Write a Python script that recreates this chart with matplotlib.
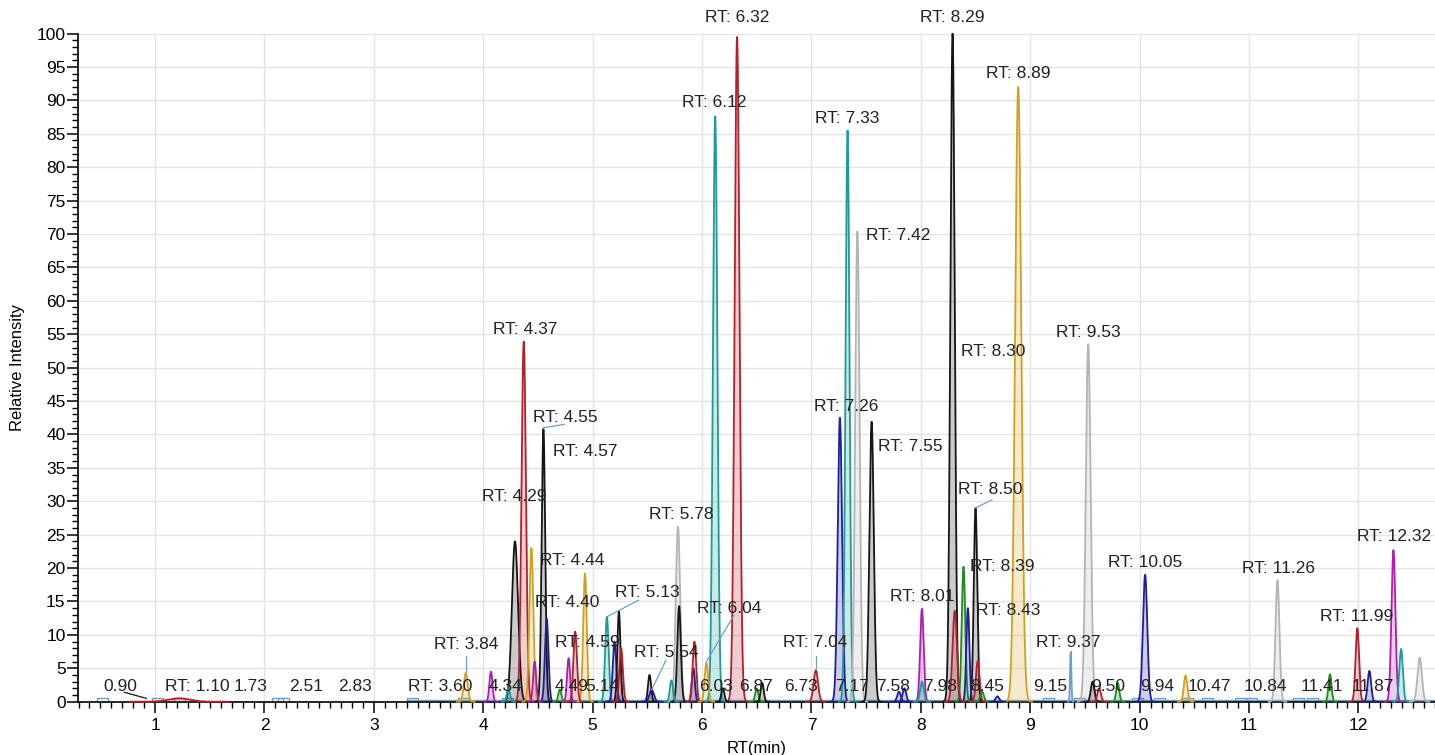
import numpy as np
import matplotlib.pyplot as plt
from matplotlib.patches import Rectangle

plt.rcParams['font.family'] = ['Liberation Sans', 'DejaVu Sans']

# colour codes
cols = {'r': '#b3202b', 't': '#1a9c98', 'k': '#151515', 'g': '#d2a020',
        'y': '#b4b4b4', 'n': '#1e1e9a', 'm': '#b01cb0', 'e': '#1d8a1d',
        'b': '#6a9fd0'}

# peaks: retention time, relative intensity, colour code, width (sigma)
peak_rt = [4.29, 4.37, 4.44, 4.55, 4.58, 4.93, 5.13, 5.78, 5.79, 6.12,
           6.32, 7.26, 7.33, 7.42, 7.55, 8.29, 8.89, 8.50, 9.53, 8.39,
           8.43, 8.31, 8.01, 10.05, 11.26, 11.99, 12.32,
           3.84, 4.07, 4.23, 4.47, 4.70, 4.78, 4.84, 5.20, 5.24, 5.26,
           5.52, 5.54, 5.72, 5.92, 5.93, 6.04, 6.19, 6.50, 6.55, 7.04,
           7.80, 7.85, 8.01, 8.52, 8.56, 8.70, 9.37, 9.57, 9.63, 9.80,
           10.42, 11.74, 12.10, 12.39, 12.56, 1.22]
peak_height = [24.0, 53.9, 23.0, 40.8, 12.4, 19.2, 12.7, 26.2, 14.3, 87.6,
               99.5, 42.5, 85.5, 70.4, 41.9, 100.0, 92.0, 29.0, 53.5, 20.2,
               14.0, 13.6, 13.9, 19.0, 18.2, 11.0, 22.7,
               4.3, 4.5, 2.0, 6.0, 1.8, 6.5, 10.5, 9.0, 13.5, 8.0,
               4.0, 1.8, 3.2, 5.0, 9.0, 5.8, 2.0, 2.0, 2.8, 4.7,
               1.5, 2.0, 3.0, 6.1, 1.5, 0.8, 7.4, 3.0, 2.0, 2.8,
               3.9, 4.1, 4.6, 7.9, 6.6, 0.5]
peak_color = ['k', 'r', 'g', 'k', 'n', 'g', 't', 'y', 'k', 't',
              'r', 'n', 't', 'y', 'k', 'k', 'g', 'k', 'y', 'e',
              'n', 'r', 'm', 'n', 'y', 'r', 'm',
              'g', 'm', 't', 'm', 'e', 'm', 'r', 'n', 'k', 'r',
              'k', 'n', 't', 'n', 'r', 'g', 'k', 'e', 'k', 'r',
              'n', 'n', 't', 'r', 'e', 'n', 'b', 'k', 'r', 'e',
              'g', 'e', 'n', 't', 'y', 'r']
peak_sigma = [0.028, 0.02, 0.018, 0.016, 0.016, 0.016, 0.016, 0.02, 0.016, 0.02,
              0.022, 0.02, 0.018, 0.02, 0.02, 0.02, 0.028, 0.016, 0.022, 0.016,
              0.014, 0.02, 0.016, 0.02, 0.018, 0.016, 0.018,
              0.018, 0.014, 0.014, 0.014, 0.014, 0.014, 0.016, 0.016, 0.014, 0.016,
              0.014, 0.02, 0.014, 0.014, 0.016, 0.016, 0.014, 0.014, 0.014, 0.02,
              0.016, 0.016, 0.016, 0.016, 0.016, 0.016, 0.006, 0.016, 0.016, 0.014,
              0.016, 0.014, 0.016, 0.016, 0.02, 0.1]

# annotations: text, x, y (text centre)
lab_text = ['RT: 6.32', 'RT: 6.12', 'RT: 8.29', 'RT: 8.89', 'RT: 7.33', 'RT: 9.53',
            'RT: 4.37', 'RT: 4.55', 'RT: 7.26', 'RT: 8.50', 'RT: 4.29', 'RT: 5.13',
            'RT: 5.78', 'RT: 6.04', 'RT: 5.54', 'RT: 3.84', 'RT: 7.04', 'RT: 8.01',
            'RT: 9.37', 'RT: 10.05', 'RT: 11.26', 'RT: 11.99', 'RT: 12.32']
lab_x = [6.32, 6.11, 8.29, 8.89, 7.33, 9.53, 4.38, 4.75, 7.32, 8.63, 4.28, 5.50,
         5.81, 6.25, 5.67, 3.84, 7.03, 8.01, 9.35, 10.05, 11.27, 11.98, 12.33]
lab_y = [102.4, 89.7, 102.4, 94.0, 87.3, 55.2, 55.7, 42.5, 44.2, 31.7, 30.7, 16.4,
         28.0, 14.0, 7.4, 8.5, 8.8, 15.7, 8.8, 20.8, 20.0, 12.7, 24.7]

# left-aligned labels beside peaks
side_text = ['RT: 7.42', 'RT: 8.30', 'RT: 4.57', 'RT: 7.55', 'RT: 4.44', 'RT: 4.40',
             'RT: 4.59', 'RT: 8.39', 'RT: 8.43']
side_x = [7.50, 8.367, 4.64, 7.61, 4.52, 4.47, 4.66, 8.45, 8.50]
side_y = [69.7, 52.4, 37.4, 38.2, 21.2, 14.9, 8.8, 20.2, 13.6]

# baseline labels
base_text = ['0.90', 'RT: 1.10', '1.73', '2.51', '2.83', 'RT: 3.60', '4.34', '4.49',
             '5.14', '6.03', '6.87', '6.73', '7.17', '7.58', '7.98', '8.45', '9.15',
             '9.50', '9.94', '10.47', '10.84', '11.41', '11.87']
base_x = [0.68, 1.39, 1.87, 2.38, 2.83, 3.61, 4.20, 4.81, 5.09, 6.13, 6.49, 6.90,
          7.37, 7.75, 8.18, 8.61, 9.18, 9.71, 10.16, 10.64, 11.15, 11.67, 12.13]
base_y = 2.2

# leader lines: from (x0, y0) to (x1, y1)
lead_x0 = [4.55, 8.50, 5.13, 6.04, 5.54, 0.92, 3.84, 7.04, 9.37]
lead_y0 = [41.0, 29.0, 12.7, 6.0, 1.8, 0.5, 4.5, 5.0, 7.4]
lead_x1 = [4.74, 8.65, 5.42, 6.29, 5.67, 0.72, 3.84, 7.04, 9.37]
lead_y1 = [41.5, 30.2, 15.2, 12.9, 6.2, 1.4, 6.8, 6.9, 7.6]
lead_c = ['b', 'b', 'b', 'b', 'b', 'k', 'b', 'b', 'b']

box_x = [0.52, 1.02, 1.22, 2.12, 2.17, 3.35, 3.82, 4.22, 9.17, 9.45, 9.98,
         10.18, 10.44, 10.62, 10.92, 11.02, 11.45, 11.58]

fig = plt.figure(figsize=(14.35, 7.55), dpi=100)
ax = fig.add_axes([0.0544, 0.0706, 0.9456, 0.885])

x = np.linspace(0.3, 12.7, 12000)
# baseline trace
ax.plot([3.3, 12.7], [0.3, 0.3], color=cols['b'], lw=1.0, zorder=2)
for bx in box_x:
    ax.add_patch(Rectangle((bx - 0.05, 0.0), 0.1, 0.6, fill=False,
                           ec=cols['b'], lw=1.0, zorder=2))

for rt, h, c, s in zip(peak_rt, peak_height, peak_color, peak_sigma):
    m = np.abs(x - rt) < 4.5 * s
    xx = x[m]
    yy = h * np.exp(-0.5 * ((xx - rt) / s) ** 2)
    ax.fill_between(xx, 0, yy, color=cols[c], alpha=0.22, lw=0, zorder=3)
    ax.plot(xx, yy, color=cols[c], lw=1.3, zorder=4, clip_on=False)

for x0, y0, x1, y1, c in zip(lead_x0, lead_y0, lead_x1, lead_y1, lead_c):
    ax.plot([x0, x1], [y0, y1], color=cols[c], lw=0.9, zorder=5)

fs = 12.5
for t, tx, ty in zip(lab_text, lab_x, lab_y):
    ax.text(tx, ty, t, ha='center', va='center', fontsize=fs, color='#222222', zorder=6)
for t, tx, ty in zip(side_text, side_x, side_y):
    ax.text(tx, ty, t, ha='left', va='center', fontsize=fs, color='#222222', zorder=6)
for t, tx in zip(base_text, base_x):
    ax.text(tx, base_y, t, ha='center', va='center', fontsize=fs, color='#222222', zorder=6)

ax.set_xlim(0.296, 12.70)
ax.set_ylim(0, 100)
ax.set_xticks(range(1, 13))
ax.set_xticks(np.arange(0.3, 12.71, 0.1), minor=True)
ax.set_yticks(range(0, 101, 5))
ax.set_yticks(range(0, 101, 1), minor=True)
ax.tick_params(axis='both', which='major', length=8, width=1.1, labelsize=12.5, direction='out')
ax.tick_params(axis='both', which='minor', length=4, width=1.0, direction='out')
ax.tick_params(axis='y', pad=1)
ax.grid(True, which='major', color='#e4e4e4', lw=1.0, zorder=0)
ax.set_axisbelow(True)
for sp in ['top', 'right']:
    ax.spines[sp].set_visible(False)
for sp in ['left', 'bottom']:
    ax.spines[sp].set_linewidth(1.2)

ax.set_xlabel('RT(min)', fontsize=12, labelpad=6)
ax.set_ylabel('Relative Intensity', fontsize=12, labelpad=8)

fig.savefig('out.png', dpi=100)
